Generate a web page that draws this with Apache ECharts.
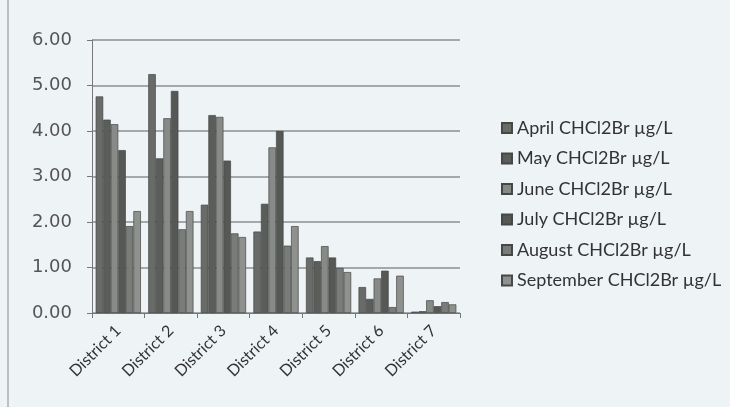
<!DOCTYPE html>
<html>
<head>
<meta charset="utf-8">
<script src="https://cdn.jsdelivr.net/npm/echarts@6/dist/echarts.min.js"></script>
<style>
  html, body { margin: 0; padding: 0; background: #eef3f5; }
  #chart { width: 730px; height: 407px; }
</style>
</head>
<body>
<div id="chart"></div>
<script>
// Districts along the x axis
const districts = ['District 1', 'District 2', 'District 3', 'District 4', 'District 5', 'District 6', 'District 7'];

// Monthly CHCl2Br concentrations (µg/L) per district
const april     = [4.76, 5.25, 2.38, 1.79, 1.22, 0.57, 0.03];
const may       = [4.25, 3.40, 4.35, 2.40, 1.14, 0.31, 0.04];
const june      = [4.15, 4.28, 4.31, 3.64, 1.47, 0.76, 0.28];
const july      = [3.58, 4.88, 3.35, 4.00, 1.22, 0.93, 0.15];
const august    = [1.91, 1.84, 1.75, 1.48, 0.99, 0.13, 0.24];
const september = [2.24, 2.24, 1.67, 1.91, 0.90, 0.82, 0.19];

const seriesNames = [
  'April CHCl2Br µg/L',
  'May CHCl2Br µg/L',
  'June CHCl2Br µg/L',
  'July CHCl2Br µg/L',
  'August CHCl2Br µg/L',
  'September CHCl2Br µg/L'
];
const seriesData = [april, may, june, july, august, september];
const seriesColors = ['#686b68', '#5a5d5a', '#878a87', '#555855', '#797c79', '#8e918e'];

const chart = echarts.init(document.getElementById('chart'));

chart.setOption({
  backgroundColor: '#eef3f5',
  animation: false,
  textStyle: { fontFamily: 'Lato, "Open Sans", sans-serif' },
  graphic: [{
    type: 'rect',
    shape: { x: 8, y: -5, width: 740, height: 420 },
    style: { fill: 'none', stroke: '#8a8d8f', lineWidth: 1 }
  }],
  grid: { left: 92, right: 270, top: 40, bottom: 94 },
  legend: {
    orient: 'vertical',
    left: 501,
    top: 119,
    padding: 0,
    itemWidth: 10,
    itemHeight: 10,
    itemGap: 12.5,
    icon: 'rect',
    textStyle: { fontSize: 18, color: '#333', lineHeight: 18, fontFamily: 'Lato, sans-serif' },
    data: seriesNames
  },
  xAxis: {
    type: 'category',
    data: districts,
    axisLine: { lineStyle: { color: '#777', width: 1 } },
    axisTick: { show: true, length: 5, lineStyle: { color: '#777' } },
    axisLabel: { rotate: 45, fontSize: 16, color: '#333', margin: 15, fontFamily: 'Lato, sans-serif' }
  },
  yAxis: {
    type: 'value',
    min: 0,
    max: 6,
    interval: 1,
    axisLine: { show: true, lineStyle: { color: '#777', width: 1 } },
    axisTick: { show: true, inside: false, length: 5, lineStyle: { color: '#777' } },
    axisLabel: {
      fontSize: 18, color: '#555', margin: 20,
      formatter: v => v.toFixed(2),
      fontFamily: '"DejaVu Sans", sans-serif'
    },
    splitLine: { show: true, lineStyle: { color: '#8c8f91', width: 1.5 } }
  },
  series: seriesNames.map((name, i) => ({
    name,
    type: 'bar',
    data: seriesData[i],
    barGap: '0%',
    barCategoryGap: '14%',
    itemStyle: { color: seriesColors[i], borderColor: '#454845', borderWidth: 0.7 }
  }))
});
</script>
</body>
</html>
